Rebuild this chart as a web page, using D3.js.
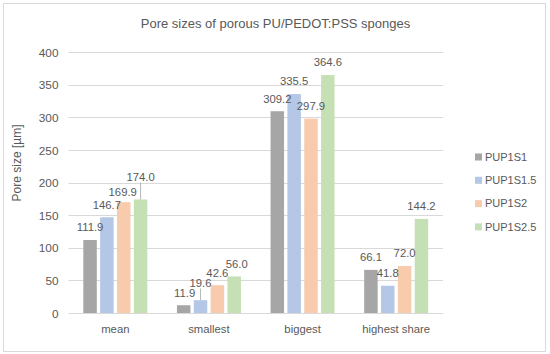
<!DOCTYPE html>
<html><head><meta charset="utf-8">
<script src="https://cdn.jsdelivr.net/npm/d3@7"></script>
<style>body{margin:0;background:#fff;} text{font-family:"Liberation Sans",Arial,sans-serif;fill:#595959;}</style>
</head><body>
<svg id="c" width="550" height="354"></svg>
<script>
const categories = ["mean", "smallest", "biggest", "highest share"];
const seriesNames = ["PUP1S1", "PUP1S1.5", "PUP1S2", "PUP1S2.5"];
const PUP1S1   = [111.9, 11.9, 309.2, 66.1];
const PUP1S1_5 = [146.7, 19.6, 335.5, 41.8];
const PUP1S2   = [169.9, 42.6, 297.9, 72.0];
const PUP1S2_5 = [174.0, 56.0, 364.6, 144.2];
const yTicks = [0, 50, 100, 150, 200, 250, 300, 350, 400];
const colors = ["#a6a6a6", "#b4c7e7", "#f8cbad", "#c5e0b4"];
// label layout nudges [series][category] : [dx, dy, leader]
const labelNudge = [
  [[0,0,0],[1,0,0],[0,0,0],[0,0,0]],
  [[0,0,0],[0,-5,1],[0,0,0],[0,0,0]],
  [[-1,3,0],[0,0,0],[0,0,0],[0,0,0]],
  [[0,-10,1],[2.5,0,0],[0,0,0],[0,0,0]]
];
const values = [PUP1S1, PUP1S1_5, PUP1S2, PUP1S2_5];

(function(){
const svg = d3.select("#c");
svg.append("rect").attr("x",3.5).attr("y",3.5).attr("width",542).attr("height",348)
  .attr("fill","#fff").attr("stroke","#d9d9d9").attr("stroke-width",1);

const pLeft = 68.5, pRight = 443, pTop = 52, pBottom = 313;
const y = d3.scaleLinear().domain([0,400]).range([pBottom, pTop]);
const x0 = d3.scaleBand().domain(categories).range([pLeft, pRight]).padding(0);
const groupW = 64;
const x1 = d3.scaleBand().domain(d3.range(4)).range([-groupW/2, groupW/2]).paddingInner(0.2).paddingOuter(0);

svg.append("g").selectAll("line").data(yTicks).join("line")
  .attr("x1", pLeft).attr("x2", pRight)
  .attr("y1", d => Math.round(y(d))+0.5).attr("y2", d => Math.round(y(d))+0.5)
  .attr("stroke", "#d9d9d9").attr("stroke-width", 1);

const yAxis = d3.axisLeft(y).tickValues(yTicks).tickSize(0).tickPadding(0);
const gy = svg.append("g").attr("transform", `translate(${pLeft-10},0)`).call(yAxis);
gy.select(".domain").remove();
gy.selectAll("text").style("font-size","11.8px").attr("fill","#595959").attr("dy","0.35em");

const xAxis = d3.axisBottom(x0).tickSize(0).tickPadding(0);
const gx = svg.append("g").attr("transform", `translate(0,${pBottom})`).call(xAxis);
gx.select(".domain").remove();
gx.selectAll("text").style("font-size","11.3px").attr("fill","#595959").attr("dy","20px");

const bars = [];
values.forEach((arr, s) => arr.forEach((v, c) => bars.push({s, c, v})));
const cx = d => x0(categories[d.c]) + x0.bandwidth()/2 + x1(d.s);
svg.append("g").selectAll("rect").data(bars).join("rect")
  .attr("x", d => cx(d)).attr("width", x1.bandwidth())
  .attr("y", d => y(d.v)).attr("height", d => y(0) - y(d.v))
  .attr("fill", d => colors[d.s]);

const lg = svg.append("g");
bars.forEach(d => {
  const n = labelNudge[d.s][d.c];
  const bx = cx(d) + x1.bandwidth()/2;
  const by = y(d.v) - 8.7 + n[1];
  lg.append("text").attr("x", bx + n[0]).attr("y", by)
    .attr("text-anchor","middle").style("font-size","11.3px").text(d.v.toFixed(1));
  if (n[2]) {
    lg.append("line").attr("x1", bx).attr("x2", bx)
      .attr("y1", by + 2).attr("y2", y(d.v))
      .attr("stroke", "#a6a6a6").attr("stroke-width", 0.8);
  }
});

svg.append("text").attr("transform","translate(21,163) rotate(-90)")
  .attr("text-anchor","middle").style("font-size","12px").text("Pore size [µm]");

svg.append("text").attr("x",275.5).attr("y",28).attr("text-anchor","middle")
  .style("font-size","13px").text("Pore sizes of porous PU/PEDOT:PSS sponges");

const leg = svg.append("g");
seriesNames.forEach((name, i) => {
  const ly = 157 + i*23.3;
  leg.append("rect").attr("x",475).attr("y",ly-3.5).attr("width",7).attr("height",7).attr("fill",colors[i]);
  leg.append("text").attr("x",485).attr("y",ly).attr("dy","0.35em").style("font-size","11px").text(name);
});
})();
</script>
</body></html>
